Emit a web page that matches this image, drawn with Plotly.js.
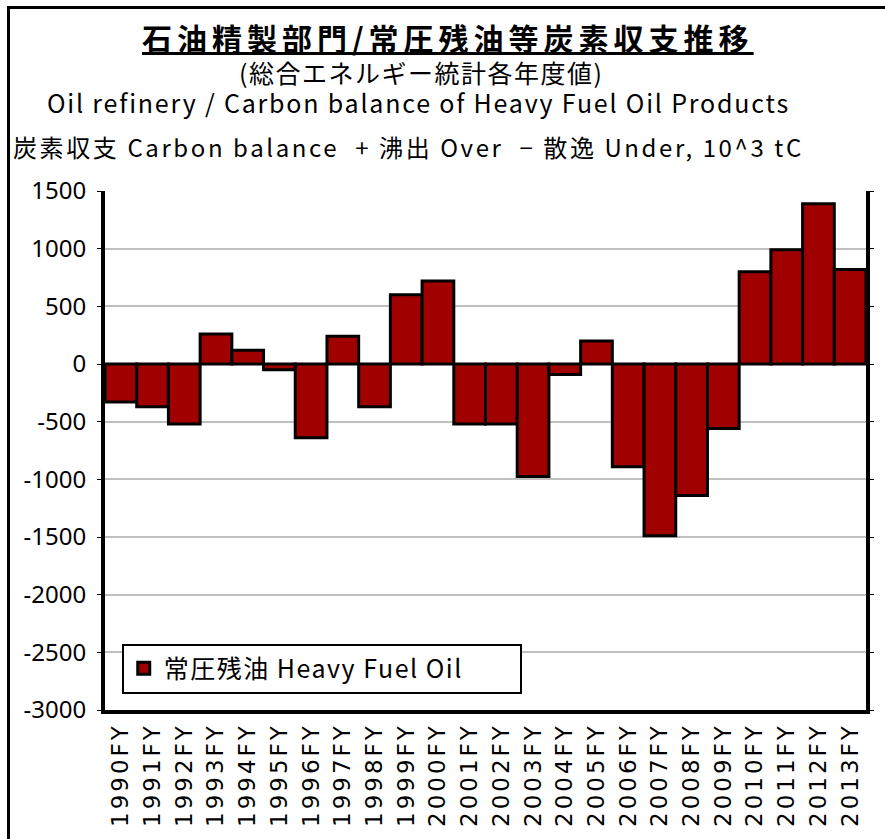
<!DOCTYPE html>
<html>
<head>
<meta charset="utf-8">
<script src="https://cdn.plot.ly/plotly-3.0.1.min.js"></script>
<style>
  html, body { margin: 0; padding: 0; background: #fff; }
  #wrap { position: relative; width: 885px; height: 839px; overflow: hidden; }
  #chart { position: absolute; left: 0; top: 0; width: 885px; height: 839px; }
  #frame { position: absolute; left: 7px; top: 6px; width: 900px; height: 900px;
           border-left: 3px solid #000; border-top: 3px solid #000; pointer-events: none; }
</style>
</head>
<body>
<div id="wrap">
  <div id="chart"></div>
  <div id="frame"></div>
</div>
<script>
// ---- data ----
const years = ["1990FY","1991FY","1992FY","1993FY","1994FY","1995FY","1996FY","1997FY",
               "1998FY","1999FY","2000FY","2001FY","2002FY","2003FY","2004FY","2005FY",
               "2006FY","2007FY","2008FY","2009FY","2010FY","2011FY","2012FY","2013FY"];
const heavyFuelOil = [-330, -370, -520, 260, 120, -50, -640, 240,
                      -370, 600, 720, -520, -520, -975, -90, 200,
                      -890, -1490, -1140, -560, 800, 990, 1390, 820];
const seriesName = "常圧残油 Heavy Fuel Oil";
const yTicks = [1500, 1000, 500, 0, -500, -1000, -1500, -2000, -2500, -3000];

const titleMain = "石油精製部門/常圧残油等炭素収支推移";
const titleSub = "(総合エネルギー統計各年度値)";
const titleEn = "Oil refinery / Carbon balance of Heavy Fuel Oil Products";
const unitLabel = "炭素収支 Carbon balance\u00a0\u00a0+\u00a0沸出 Over\u00a0\u00a0−\u00a0散逸 Under, 10^3 tC";

function spaced(text, px) {
  return '<span style="letter-spacing:' + px + 'px">' + text + '</span>';
}

const trace = {
  type: "bar",
  x: years,
  y: heavyFuelOil,
  name: spaced(seriesName, 1.5),
  marker: { color: "#a00000", line: { color: "#000", width: 3 } },
  showlegend: true
};

const layout = {
  width: 885, height: 839,
  margin: { l: 105, r: 19, t: 191, b: 129, pad: 0 },
  paper_bgcolor: "#fff", plot_bgcolor: "#fff",
  bargap: 0,
  font: { family: "Noto Sans CJK JP, Noto Sans, sans-serif", color: "#000" },
  showlegend: true,
  legend: {
    x: 0.022, y: 0.128, xanchor: "left", yanchor: "top",
    bgcolor: "#fff", bordercolor: "#000", borderwidth: 2,
    orientation: "h", entrywidth: 351,
    font: { size: 25, family: "Noto Sans CJK JP, sans-serif", color: "#000" }
  },
  xaxis: {
    type: "category",
    tickangle: -90,
    tickvals: years,
    ticktext: years.map(t => spaced(t, 3)),
    tickfont: { size: 23, family: "DejaVu Sans, sans-serif", color: "#000" },
    showline: true, linecolor: "#000", linewidth: 4,
    ticks: "", showgrid: false,
    ticklabelstandoff: 0,
    automargin: false
  },
  yaxis: {
    range: [-3000, 1500],
    tickvals: yTicks,
    ticktext: yTicks.map(v => v < 0 ? "-" + Math.abs(v) : String(v)),
    tickfont: { size: 24, family: "Noto Sans, sans-serif", color: "#000" },
    showline: true, linecolor: "#000", linewidth: 4,
    mirror: "ticks",
    ticks: "outside", ticklen: 4, tickcolor: "#000", tickwidth: 1,
    showgrid: true, gridcolor: "#c0c0c0", gridwidth: 2,
    zeroline: false,
    ticklabelstandoff: 6,
    automargin: false
  },
  annotations: [
    { xref: "paper", yref: "paper", x: 0.4507, y: 1.296, xanchor: "center", yanchor: "middle",
      text: "<u>" + spaced(titleMain, 5) + "</u>", showarrow: false, borderpad: 0,
      font: { size: 30, family: "Noto Sans CJK JP, sans-serif", weight: 700, color: "#000" } },
    { xref: "paper", yref: "paper", x: 0.415, y: 1.2293, xanchor: "center", yanchor: "middle",
      text: spaced(titleSub, 1.5), showarrow: false, borderpad: 0,
      font: { size: 25, family: "Noto Sans CJK JP, sans-serif", color: "#000" } },
    { xref: "paper", yref: "paper", x: 0.412, y: 1.1715, xanchor: "center", yanchor: "middle",
      text: spaced(titleEn, 1.8), showarrow: false, borderpad: 0,
      font: { size: 25, family: "Noto Sans CJK JP, sans-serif", color: "#000" } },
    { xref: "paper", yref: "paper", x: -0.1222, y: 1.0848, xanchor: "left", yanchor: "middle",
      text: spaced(unitLabel, 2.6), showarrow: false, borderpad: 0,
      font: { size: 24, family: "Noto Sans CJK JP, sans-serif", color: "#000" } }
  ]
};

Plotly.newPlot("chart", [trace], layout, { staticPlot: true, displayModeBar: false });
</script>
</body>
</html>
